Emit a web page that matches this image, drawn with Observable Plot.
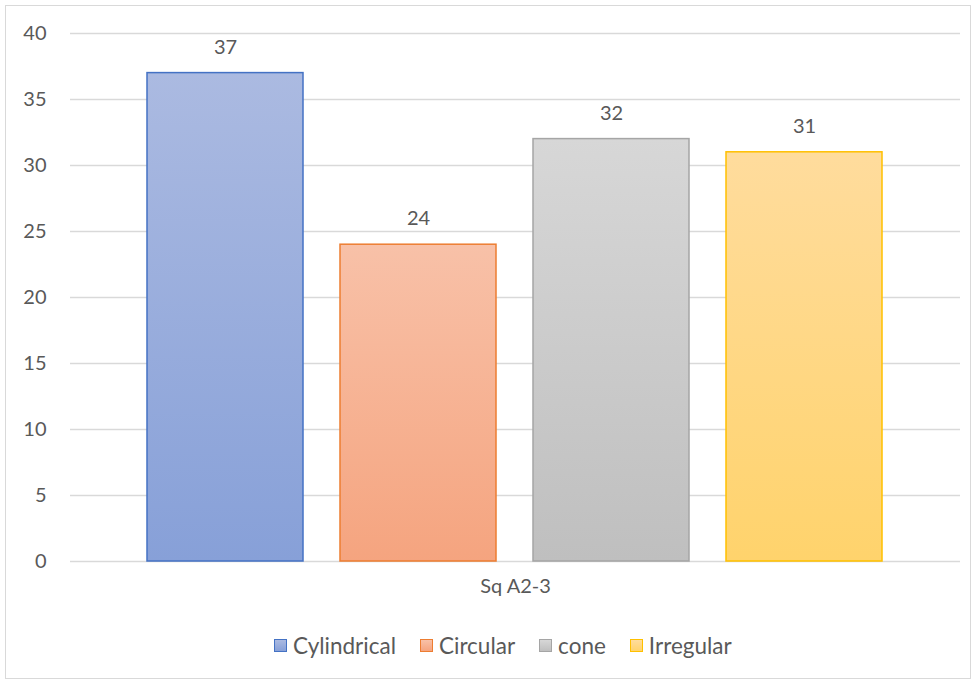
<!DOCTYPE html>
<html>
<head>
<meta charset="utf-8">
<script src="https://cdn.jsdelivr.net/npm/d3@7"></script>
<script src="https://cdn.jsdelivr.net/npm/@observablehq/plot@0.6"></script>
<style>
  html, body { margin: 0; padding: 0; background: #fff; }
  body { width: 977px; height: 684px; position: relative; overflow: hidden; font-family: Lato, "Open Sans", sans-serif; }
  #frame { position: absolute; left: 5px; top: 5px; width: 966px; height: 674px; border: 1px solid #d9d9d9; box-sizing: border-box; }
  #chart { position: absolute; left: 0; top: 0; }
  #legend { position: absolute; left: 274px; top: 632px; display: flex; align-items: center; font-size: 22.5px; color: #595959; white-space: nowrap; }
  .item { display: flex; align-items: center; margin-right: 24px; }
  .sw { width: 11px; height: 11px; border: 1px solid; margin-right: 6px; }
</style>
</head>
<body>
<div id="frame"></div>
<div id="chart"></div>
<div id="legend"></div>
<script>
const series = ["Cylindrical", "Circular", "cone", "Irregular"];
const values = [37, 24, 32, 31];
const category = "Sq A2-3";
const yTicks = [0, 5, 10, 15, 20, 25, 30, 35, 40];
const strokes = ["#4472c4", "#ed7d31", "#a5a5a5", "#ffc000"];
const gradTop = ["#abbae1", "#f8c1a8", "#d7d7d7", "#ffdc9d"];
const gradBottom = ["#87a0d8", "#f5a47f", "#bfbfbf", "#ffd36c"];

const data = series.map((s, i) => ({ series: s, value: values[i], i }));

const plot = Plot.plot({
  width: 977,
  height: 620,
  marginLeft: 70,
  marginRight: 17,
  marginTop: 33,
  marginBottom: 59,
  style: { fontFamily: "Lato, 'Open Sans', sans-serif", fontSize: "20px", color: "#595959", background: "transparent" },
  x: { domain: series, range: [147, 882], paddingInner: 37 / 193, paddingOuter: 0, axis: null },
  y: { domain: [0, 40], ticks: yTicks, label: null },
  marks: [
    Plot.ruleY(yTicks, { stroke: "#d9d9d9", strokeWidth: 1.3 }),
    Plot.axisY({ ticks: yTicks, tickSize: 0, tickPadding: 24, label: null, fontSize: 20, fill: "#595959" }),
    Plot.barY(data, {
      x: "series",
      y: "value",
      fill: d => `url(#grad${d.i})`,
      stroke: d => strokes[d.i],
      strokeWidth: 1.5
    }),
    Plot.text(data, { x: "series", y: "value", text: d => String(d.value), dy: -26, fontSize: 20, fill: "#595959" }),
    Plot.text([category], { frameAnchor: "bottom", text: d => d, dy: 31, fontSize: 20, fill: "#595959" })
  ]
});

const svg = d3.select(plot);
const defs = svg.insert("defs", ":first-child");
series.forEach((s, i) => {
  const g = defs.append("linearGradient").attr("id", `grad${i}`).attr("x1", 0).attr("y1", 0).attr("x2", 0).attr("y2", 1);
  g.append("stop").attr("offset", "0%").attr("stop-color", gradTop[i]);
  g.append("stop").attr("offset", "100%").attr("stop-color", gradBottom[i]);
});

document.getElementById("chart").appendChild(plot);

const legend = document.getElementById("legend");
series.forEach((s, i) => {
  const item = document.createElement("div");
  item.className = "item";
  const sw = document.createElement("div");
  sw.className = "sw";
  sw.style.borderColor = strokes[i];
  sw.style.background = `linear-gradient(${gradTop[i]}, ${gradBottom[i]})`;
  const t = document.createElement("span");
  t.textContent = s;
  item.appendChild(sw);
  item.appendChild(t);
  legend.appendChild(item);
});
</script>
</body>
</html>
